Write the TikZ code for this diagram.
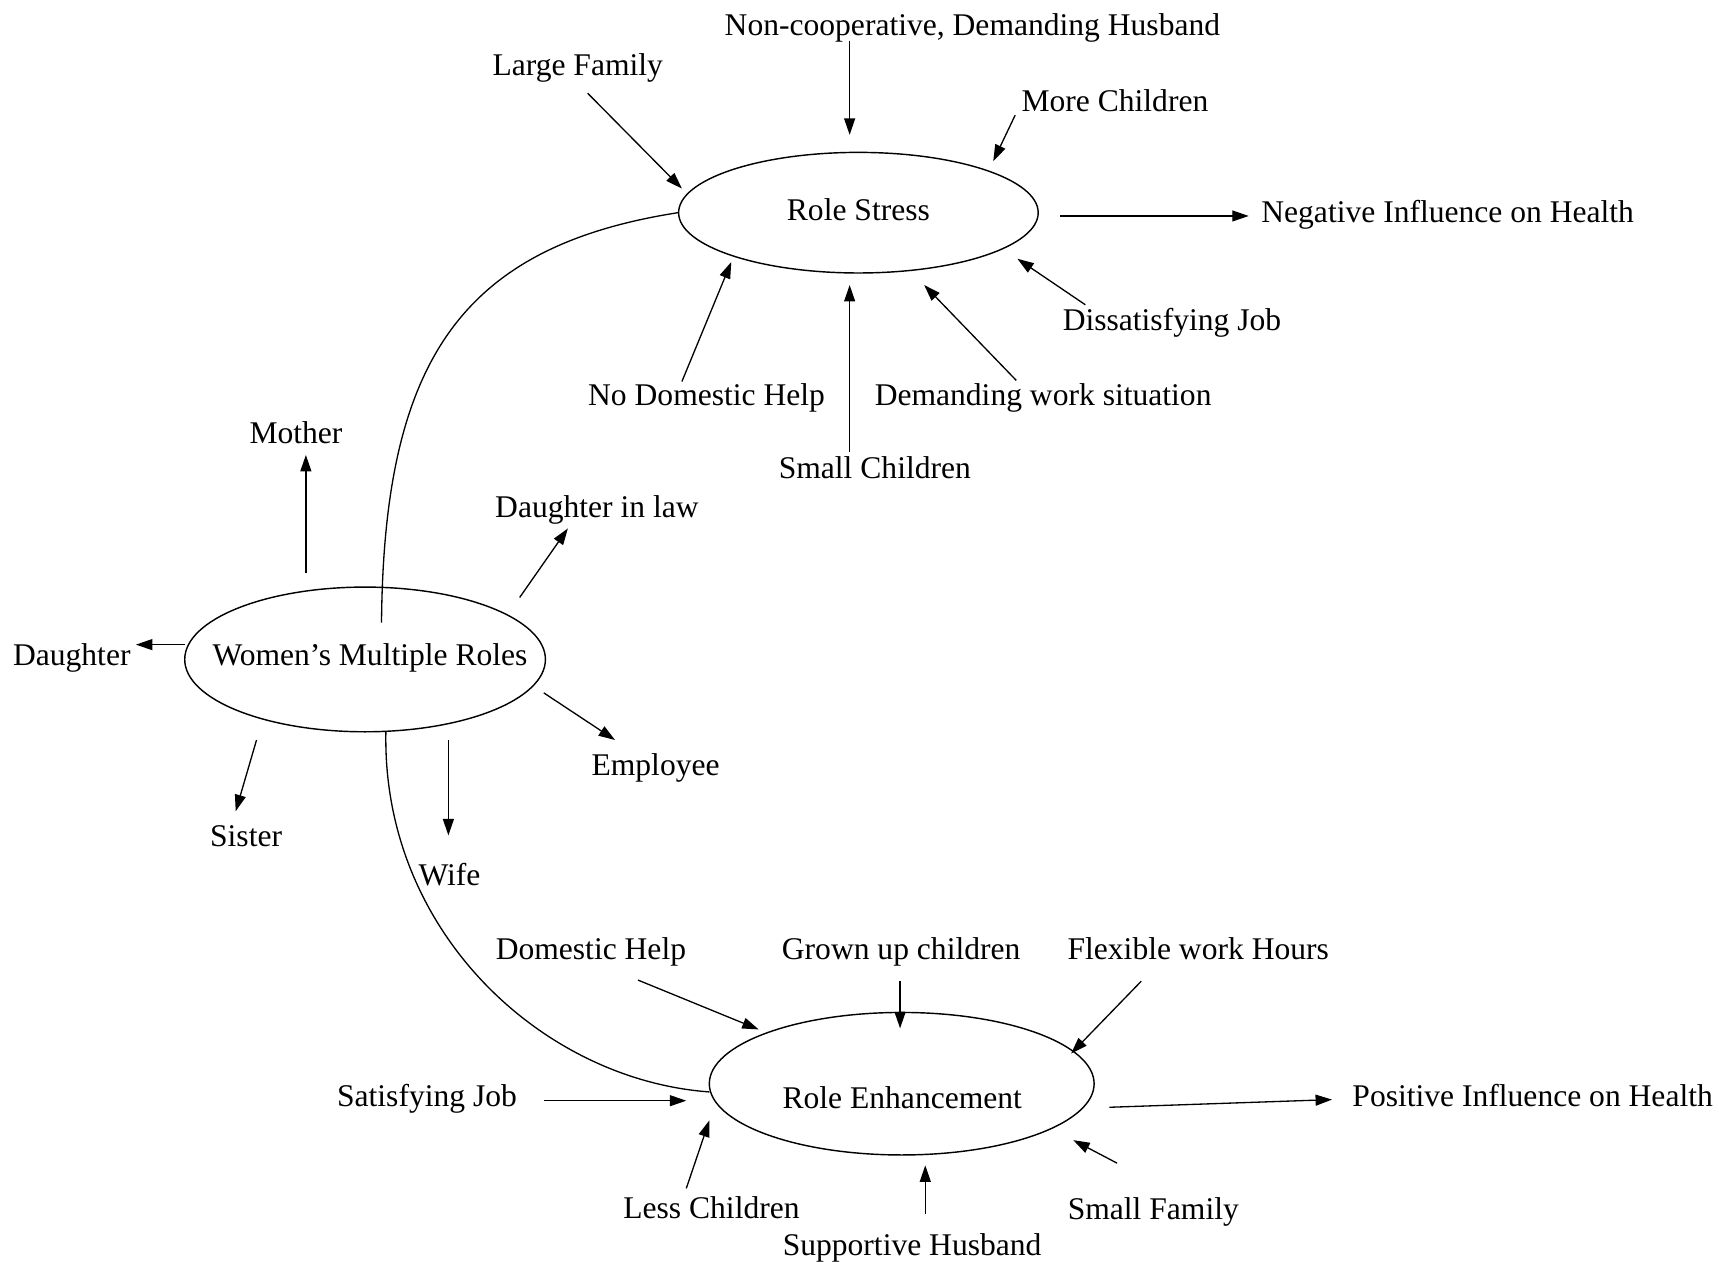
\documentclass[tikz,border=0pt]{standalone}
\usepackage{fontspec}
\setmainfont{Liberation Serif}
\usetikzlibrary{shapes.geometric,arrows.meta}
\begin{document}
\begin{tikzpicture}[x=1pt,y=-1pt,
  txt/.style={inner sep=0pt, font=\fontsize{28.8}{34}\selectfont, text height=19pt, text depth=0pt},
  ell/.style={draw, ellipse, line width=1.3pt, inner sep=0pt},
  arr/.style={line width=1.2pt, -{Triangle[length=15pt,width=10pt]}},
  lnk/.style={line width=1.2pt}]
\useasboundingbox (0,0) rectangle (1568,1151);

% ellipses
\node[ell, minimum width=328pt, minimum height=110pt] (rs) at (783,194) {};
\node[ell, minimum width=329pt, minimum height=132pt] (wm) at (333,601.5) {};
\node[ell, minimum width=351pt, minimum height=130pt] (re) at (822.5,988.5) {};

% texts
\node[txt] (rst) at (783,191.5) {Role Stress};
\node[txt] (wmt) at (337.5,597.5) {Women’s Multiple Roles};
\node[txt] (ret) at (823,1002) {Role Enhancement};

\node[txt] (ncd) at (887,22.5) {Non-cooperative, Demanding Husband};
\node[txt] (lf) at (527,59) {Large Family};
\node[txt] (mc) at (1017,92) {More Children};
\node[txt] (neg) at (1320.5,193) {Negative Influence on Health};
\node[txt] (dj) at (1069,292) {Dissatisfying Job};
\node[txt] (ndh) at (644.5,360) {No Domestic Help};
\node[txt] (dws) at (951.5,360) {Demanding work situation};
\node[txt] (sc) at (798,427) {Small Children};

\node[txt] (mo) at (270,395) {Mother};
\node[txt] (dil) at (544.5,462.5) {Daughter in law};
\node[txt] (da) at (65.5,597.5) {Daughter};
\node[txt] (em) at (598,697.5) {Employee};
\node[txt] (si) at (224.5,763) {Sister};
\node[txt] (wi) at (410,798) {Wife};

\node[txt] (dh) at (539,866) {Domestic Help};
\node[txt] (guc) at (822,866) {Grown up children};
\node[txt] (fwh) at (1093,866) {Flexible work Hours};
\node[txt] (sj) at (389.5,1000) {Satisfying Job};
\node[txt] (pos) at (1398,1000) {Positive Influence on Health};
\node[txt] (lc) at (649,1102) {Less Children};
\node[txt] (sh) at (832,1135.5) {Supportive Husband};
\node[txt] (sf) at (1052,1103) {Small Family};

% arrow end points
\coordinate (a1s) at (775,37);   \coordinate (a1e) at (775,123);
\coordinate (a2s) at (536,85);   \coordinate (a2e) at (622,172);
\coordinate (a3s) at (926,105);  \coordinate (a3e) at (906,147);
\coordinate (a4s) at (967,197);  \coordinate (a4e) at (1139,197);
\coordinate (a5s) at (622,348);  \coordinate (a5e) at (667,239);
\coordinate (a6s) at (775,412);  \coordinate (a6e) at (775,260);
\coordinate (a7s) at (927,347);  \coordinate (a7e) at (843,260);
\coordinate (a8s) at (990,278);  \coordinate (a8e) at (928,236);
\coordinate (a9s) at (279,523);  \coordinate (a9e) at (279,415);
\coordinate (a10s) at (474,545); \coordinate (a10e) at (518,482);
\coordinate (a11s) at (169,588); \coordinate (a11e) at (124,588);
\coordinate (a12s) at (496,632); \coordinate (a12e) at (561,675);
\coordinate (a13s) at (234,675); \coordinate (a13e) at (215,740);
\coordinate (a14s) at (409,675); \coordinate (a14e) at (409,762);
\coordinate (a15s) at (582,894); \coordinate (a15e) at (692,939);
\coordinate (a16s) at (821,895); \coordinate (a16e) at (821,938);
\coordinate (a17s) at (1041,895); \coordinate (a17e) at (977,961);
\coordinate (a18s) at (496,1004); \coordinate (a18e) at (626,1004);
\coordinate (a19s) at (1012,1010); \coordinate (a19e) at (1215,1003);
\coordinate (a20s) at (626,1084); \coordinate (a20e) at (647,1022);
\coordinate (a21s) at (844,1107); \coordinate (a21e) at (844,1063);
\coordinate (a22s) at (1019,1061); \coordinate (a22e) at (979,1040);

\foreach \i in {1,...,22} { \draw[arr] (a\i s) -- (a\i e); }

% connecting curves
\coordinate (wtop) at (348,568);
\coordinate (wbot) at (352,667);
\coordinate (reL) at (647,996);
\draw[lnk] (rs.west) .. controls (420,225) and (350,330) .. (wtop);
\draw[lnk] (wbot) .. controls (348,850) and (495,985) .. (reL);
\end{tikzpicture}
\end{document}
